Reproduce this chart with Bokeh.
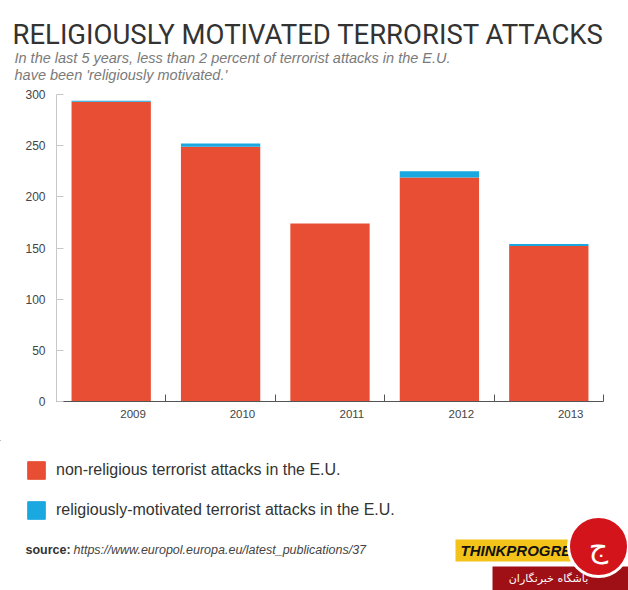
import numpy as np
from bokeh.plotting import figure
from bokeh.layouts import column
from bokeh.models import (Range1d, FixedTicker, Legend, LegendItem, ColumnDataSource)
from bokeh.core.properties import value
from bokeh.embed import file_html
from bokeh.resources import INLINE

# ---- data ----
years = ["2009", "2010", "2011", "2012", "2013"]
non_religious = [293, 249, 174, 219, 152]
religious = [1, 3, 0, 6, 2]
y_ticks = [0, 50, 100, 150, 200, 250, 300]
series_names = ["non-religious terrorist attacks in the E.U.",
                "religiously-motivated terrorist attacks in the E.U."]

title_text = "RELIGIOUSLY MOTIVATED TERRORIST ATTACKS"
subtitle_1 = "In the last 5 years, less than 2 percent of terrorist attacks in the E.U."
subtitle_2 = "have been 'religiously motivated.'"
source_label = "source:"
source_url = "https://www.europol.europa.eu/latest_publications/37"
logo_text = "THINKPROGRESS"
watermark_text = "باشگاه خبرنگاران"

RED = "#E84E34"
BLUE = "#19A8E0"
W = 628
HEAD_H = 84          # header strip height
MAIN_H = 356         # chart strip height
FOOT_H = 590 - HEAD_H - MAIN_H


def strip(height, top_px):
    """A figure whose data units are page pixels (y measured from page top)."""
    f = figure(width=W, height=height, output_backend="svg", toolbar_location=None,
               x_range=Range1d(0, W), y_range=Range1d(top_px + height, top_px),
               x_axis_location=None, y_axis_location=None,
               min_border=0, frame_align=False)
    f.outline_line_color = None
    f.xgrid.visible = False
    f.ygrid.visible = False
    return f


# ---- header ----
head = strip(HEAD_H, 0)
head.text(x=[12], y=[34], text=[title_text], text_font=value("Roboto"),
          text_font_size="27.5px", text_color="#333333", text_baseline="middle")
head.text(x=[14, 14], y=[57, 74], text=[subtitle_1, subtitle_2],
          text_font=value("Liberation Sans"), text_font_style="italic",
          text_font_size="14.5px", text_color="#7a7a7a", text_baseline="middle")

# ---- main chart ----
xpos = np.arange(len(years)) + 0.5
src = ColumnDataSource(dict(x=xpos, non=non_religious, rel=religious))

p = figure(width=W, height=MAIN_H, output_backend="svg", toolbar_location=None,
           x_range=Range1d(0, len(years)), y_range=Range1d(0, 300),
           min_border_left=56, min_border_right=25,
           min_border_top=10, min_border_bottom=39, frame_align=False)
p.outline_line_color = None
p.xgrid.visible = False
p.ygrid.visible = False

rs = p.vbar_stack(["non", "rel"], x="x", width=0.725, source=src,
                  color=[RED, BLUE], line_color=None)

xa = p.xaxis[0]
label_pos = list(xpos + 0.2)
xa.ticker = FixedTicker(ticks=label_pos, minor_ticks=list(range(len(years) + 1)))
xa.major_label_overrides = {float(v): y for v, y in zip(label_pos, years)}
xa.major_tick_line_color = None
xa.major_tick_in = 0
xa.major_tick_out = 0
xa.minor_tick_in = 7
xa.minor_tick_out = 0
xa.minor_tick_line_color = "#555555"
xa.axis_line_color = "#555555"
xa.major_label_standoff = 8
xa.major_label_text_font = "Liberation Sans"
xa.major_label_text_font_size = "11.5px"
xa.major_label_text_color = "#444444"

ya = p.yaxis[0]
ya.ticker = FixedTicker(ticks=y_ticks)
ya.minor_tick_line_color = None
ya.major_tick_in = 7
ya.major_tick_out = 0
ya.major_tick_line_color = "#c8c8c8"
ya.axis_line_color = "#c8c8c8"
ya.major_label_standoff = 11
ya.major_label_text_font = "Liberation Sans"
ya.major_label_text_font_size = "12px"
ya.major_label_text_color = "#444444"

# ---- footer ----
FOOT_TOP = HEAD_H + MAIN_H
foot = strip(FOOT_H, FOOT_TOP)
# legend key renderers (kept outside the visible strip; only their legend swatches show)
d0 = foot.vbar(x=[-1000], top=[-1000], bottom=[-1001], width=1, color=RED)
d1 = foot.vbar(x=[-1000], top=[-1000], bottom=[-1001], width=1, color=BLUE)
legend = Legend(items=[LegendItem(label=series_names[0], renderers=[d0]),
                       LegendItem(label=series_names[1], renderers=[d1])],
                location=(25, 590 - 521), orientation="vertical",
                glyph_width=22, glyph_height=22, label_height=22,
                spacing=18, padding=0, margin=0, label_standoff=9,
                label_text_font="Liberation Sans", label_text_font_size="16px",
                label_text_color="#333333", border_line_color=None,
                background_fill_alpha=0)
foot.add_layout(legend, "center")

foot.text(x=[25], y=[549], text=[source_label], text_font=value("Liberation Sans"),
          text_font_style="bold", text_font_size="12.5px", text_color="#333333",
          text_baseline="middle")
foot.text(x=[73], y=[549], text=[source_url], text_font=value("Liberation Sans"),
          text_font_style="italic", text_font_size="12.5px", text_color="#444444",
          text_baseline="middle")

# ThinkProgress logo
foot.quad(left=[455], right=[592], top=[539], bottom=[561],
          fill_color="#F3C31A", line_color=None)
foot.text(x=[460], y=[550], text=[logo_text], text_font=value("Liberation Sans"),
          text_font_style="bold italic", text_font_size="15px", text_color="#111111",
          text_baseline="middle")

# watermark
foot.quad(left=[492], right=[628], top=[566], bottom=[590],
          fill_color="#9E1016", line_color=None)
foot.text(x=[548], y=[578], text=[watermark_text], text_font=value("DejaVu Sans"),
          text_font_size="11px", text_color="white", text_align="center",
          text_baseline="middle")
foot.scatter(x=[598], y=[546], marker="circle", size=60, fill_color="#D3141B",
             line_color="white", line_width=3)
foot.text(x=[598], y=[546], text=["ج"], text_font=value("DejaVu Sans"),
          text_font_size="30px", text_color="white", text_align="center",
          text_baseline="middle")

layout = column(head, p, foot, spacing=0)
open("out.html", "w").write(file_html(layout, INLINE))
